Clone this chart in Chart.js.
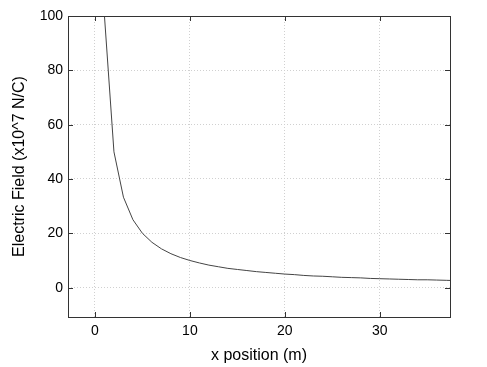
<!DOCTYPE html>
<html>
<head>
<meta charset="utf-8">
<script src="https://cdn.jsdelivr.net/npm/chart.js@4"></script>
<style>
  body { margin: 0; background: #fff; }
  #wrap { width: 487px; height: 367px; }
</style>
</head>
<body>
<div id="wrap"><canvas id="chart"></canvas></div>
<script>
// x position in m
const positions = [1, 2, 3, 4, 5, 6, 7, 8, 9, 10, 11, 12, 13, 14, 15, 16, 17, 18, 19,
  20, 21, 22, 23, 24, 25, 26, 27, 28, 29, 30, 31, 32, 33, 34, 35, 36, 37, 38];
// electric field, x10^7 N/C
const field = [100, 50, 33.3, 25, 20, 16.7, 14.3, 12.5, 11.1, 10, 9.1, 8.3, 7.7, 7.1, 6.7,
  6.3, 5.9, 5.6, 5.3, 5, 4.8, 4.5, 4.3, 4.2, 4, 3.8, 3.7, 3.6, 3.4, 3.3, 3.2, 3.1, 3.0,
  2.9, 2.9, 2.8, 2.7, 2.6];
const xTicks = [0, 10, 20, 30];
const yTicks = [0, 20, 40, 60, 80, 100];

const points = positions.map((x, i) => ({ x: x, y: field[i] }));
const font = { family: 'Liberation Sans, Arial, sans-serif', size: 14 };
const titleFont = { family: 'Liberation Sans, Arial, sans-serif', size: 16 };

// box around the plot with ticks pointing inward
const frame = {
  id: 'frame',
  afterDatasetsDraw(chart) {
    const ctx = chart.ctx;
    const a = chart.chartArea;
    const sx = chart.scales.x, sy = chart.scales.y;
    ctx.save();
    ctx.strokeStyle = '#333';
    ctx.lineWidth = 1;
    ctx.strokeRect(Math.round(a.left) + 0.5, Math.round(a.top) + 0.5,
      Math.round(a.right - a.left), Math.round(a.bottom - a.top));
    ctx.beginPath();
    xTicks.forEach(v => {
      const px = Math.round(sx.getPixelForValue(v)) + 0.5;
      ctx.moveTo(px, a.bottom); ctx.lineTo(px, a.bottom - 5);
      ctx.moveTo(px, a.top); ctx.lineTo(px, a.top + 5);
    });
    yTicks.forEach(v => {
      const py = Math.round(sy.getPixelForValue(v)) + 0.5;
      ctx.moveTo(a.left, py); ctx.lineTo(a.left + 5, py);
      ctx.moveTo(a.right, py); ctx.lineTo(a.right - 5, py);
    });
    ctx.stroke();
    ctx.restore();
  }
};

new Chart(document.getElementById('chart'), {
  type: 'scatter',
  data: {
    datasets: [{
      data: points,
      showLine: true,
      borderColor: '#444',
      borderWidth: 1,
      pointRadius: 0,
      tension: 0
    }]
  },
  options: {
    responsive: true,
    maintainAspectRatio: false,
    animation: false,
    layout: { padding: { top: 16, right: 37, left: 0, bottom: 0 } },
    plugins: { legend: { display: false }, tooltip: { enabled: false } },
    scales: {
      x: {
        type: 'linear',
        min: -2.84,
        max: 37.4,
        afterBuildTicks: s => { s.ticks = xTicks.map(v => ({ value: v })); },
        afterFit: s => { s.height = 50; },
        grid: { color: '#d0d0d0', drawTicks: false },
        border: { display: false, dash: [1, 2] },
        ticks: { color: '#000', font: font, padding: 6, maxRotation: 0 },
        title: { display: true, text: 'x position (m)', color: '#000',
          font: titleFont, padding: { top: 0, bottom: 2 } }
      },
      y: {
        min: -10.8,
        max: 100,
        afterBuildTicks: s => { s.ticks = yTicks.map(v => ({ value: v })); },
        afterFit: s => { s.width = 68; },
        grid: { color: '#d0d0d0', drawTicks: false },
        border: { display: false, dash: [1, 2] },
        ticks: { color: '#000', font: font, padding: 5 },
        title: { display: true, text: 'Electric Field (x10^7 N/C)', color: '#000',
          font: titleFont, padding: { top: 10, bottom: 0 } }
      }
    }
  },
  plugins: [frame]
});
</script>
</body>
</html>
